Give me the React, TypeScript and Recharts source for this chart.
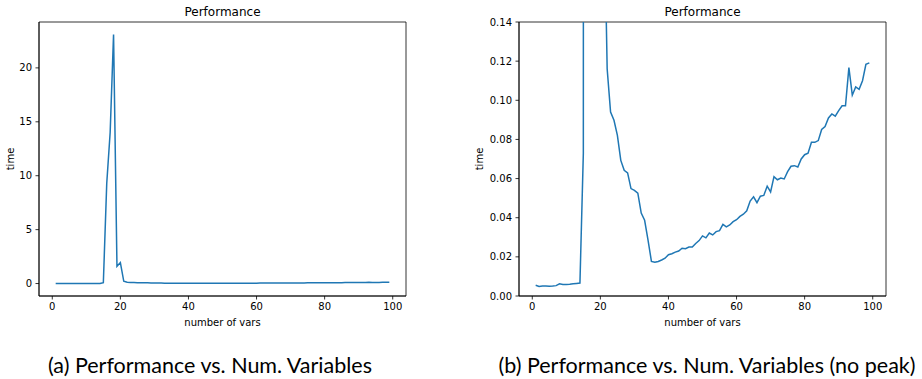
import { Line, LineChart, ReferenceArea, XAxis, YAxis } from "recharts";

// number of variables on the x axis (1..99)
const numVars: number[] = Array.from({ length: 99 }, (_, i) => i + 1);

const times: number[] = [
  0.0055, 0.0049, 0.0051, 0.0051, 0.005, 0.0051, 0.0053, 0.0062, 0.0059, 0.0059,
  0.006, 0.0062, 0.0064, 0.0066, 0.073, 9.3, 14.0, 23.1, 1.6, 1.95,
  0.21, 0.116, 0.094, 0.0898, 0.0821, 0.0693, 0.0642, 0.0629, 0.0549, 0.054,
  0.0526, 0.0424, 0.0387, 0.0285, 0.0177, 0.0172, 0.0176, 0.0184, 0.0193, 0.0211,
  0.0216, 0.0224, 0.023, 0.0244, 0.0242, 0.025, 0.025, 0.0268, 0.0283, 0.0307,
  0.0297, 0.0322, 0.0312, 0.0329, 0.0334, 0.0366, 0.0353, 0.0363, 0.038, 0.039,
  0.0407, 0.0418, 0.0435, 0.0485, 0.0507, 0.0477, 0.051, 0.0514, 0.0561, 0.0532,
  0.061, 0.0594, 0.0603, 0.0598, 0.0635, 0.0663, 0.0666, 0.0659, 0.07, 0.0722,
  0.073, 0.0785, 0.0785, 0.0794, 0.0851, 0.0866, 0.091, 0.093, 0.0919, 0.0947,
  0.0972, 0.0972, 0.1167, 0.1026, 0.1068, 0.1056, 0.11, 0.1184, 0.1191,
];

const xTicks = [0, 20, 40, 60, 80, 100];
const fullTicks = [0, 5, 10, 15, 20];
const zoomTicks = [0, 0.02, 0.04, 0.06, 0.08, 0.1, 0.12, 0.14];

const rows = numVars.map((v, i) => ({ vars: v, time: times[i] }));

const X_DOMAIN: [number, number] = [-3.9, 103.9];
const INK = "#000";
const BLUE = "#1f77b4";

interface PanelProps {
  left: number;
  width: number;
  yWidth: number;
  labelOffset: number;
  yDomain: [number, number];
  yTicks: number[];
  fmt: (v: number) => string;
}

function Panel({ left, width, yWidth, labelOffset, yDomain, yTicks, fmt }: PanelProps) {
  const plotLeft = yWidth;
  const plotRight = width - 14;
  return (
    <div style={{ position: "absolute", left, top: 0, width, height: 335 }}>
      <div
        style={{
          position: "absolute",
          left: plotLeft,
          width: plotRight - plotLeft,
          top: 6,
          fontSize: 12,
          lineHeight: "12px",
          textAlign: "center",
          color: INK,
        }}
      >
        Performance
      </div>
      <LineChart
        width={width}
        height={335}
        data={rows}
        margin={{ top: 22, right: 14, bottom: 0, left: 0 }}
      >
        <XAxis
          dataKey="vars"
          type="number"
          domain={X_DOMAIN}
          ticks={xTicks}
          allowDataOverflow
          height={39}
          tickSize={3.5}
          tickMargin={3.5}
          stroke={INK}
          strokeWidth={0.8}
          tick={{ fill: INK, fontSize: 10 }}
          label={{ value: "number of vars", position: "insideBottom", offset: 9, fill: INK, fontSize: 10 }}
        />
        <YAxis
          type="number"
          domain={yDomain}
          ticks={yTicks}
          allowDataOverflow
          width={yWidth}
          tickSize={3.5}
          tickMargin={3.5}
          stroke={INK}
          strokeWidth={0.8}
          tick={{ fill: INK, fontSize: 10 }}
          tickFormatter={fmt}
          label={{
            value: "time",
            angle: -90,
            position: "insideLeft",
            offset: labelOffset,
            fill: INK,
            fontSize: 10,
            style: { textAnchor: "middle" },
          }}
        />
        {/* box around the plot like matplotlib's spines */}
        <ReferenceArea
          x1={X_DOMAIN[0]}
          x2={X_DOMAIN[1]}
          y1={yDomain[0]}
          y2={yDomain[1]}
          fill="none"
          stroke={INK}
          strokeWidth={0.8}
          ifOverflow="visible"
        />
        <Line
          type="linear"
          dataKey="time"
          stroke={BLUE}
          strokeWidth={1.5}
          dot={false}
          activeDot={false}
          isAnimationActive={false}
        />
      </LineChart>
    </div>
  );
}

const captionStyle: React.CSSProperties = {
  position: "absolute",
  top: 355,
  width: 460,
  textAlign: "center",
  fontFamily: "Lato",
  fontSize: 21.5,
  lineHeight: "21.5px",
  color: INK,
  whiteSpace: "nowrap",
};

export default function App() {
  return (
    <div
      style={{
        position: "absolute",
        left: 0,
        top: 0,
        width: 922,
        height: 379,
        background: "#fff",
        fontFamily: "'DejaVu Sans'",
        overflow: "hidden",
      }}
    >
      <Panel
        left={0}
        width={420}
        yWidth={39}
        labelOffset={10}
        yDomain={[-1.155, 24.255]}
        yTicks={fullTicks}
        fmt={(v) => String(v)}
      />
      <Panel
        left={460}
        width={440}
        yWidth={59}
        labelOffset={19}
        yDomain={[0, 0.14]}
        yTicks={zoomTicks}
        fmt={(v) => v.toFixed(2)}
      />
      <div style={{ ...captionStyle, left: 210 - 230 }}>(a) Performance vs. Num. Variables</div>
      <div style={{ ...captionStyle, left: 707 - 230 }}>(b) Performance vs. Num. Variables (no peak)</div>
    </div>
  );
}
